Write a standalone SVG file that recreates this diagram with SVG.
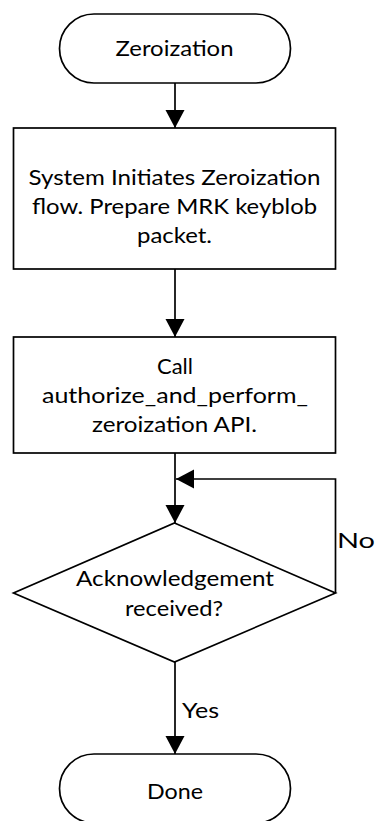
<svg xmlns="http://www.w3.org/2000/svg" width="377" height="821" viewBox="0 0 377 821">
  <style>
    .shape { fill: #ffffff; stroke: #000000; stroke-width: 1.7; }
    .edge { fill: none; stroke: #000000; stroke-width: 1.7; }
    .label { font-family: Lato, "Open Sans", "Liberation Sans", sans-serif; font-size: 21px; fill: #000000; }
    .mid { text-anchor: middle; }
  </style>
  <defs>
    <marker id="arrow" markerUnits="userSpaceOnUse" markerWidth="20" markerHeight="20" refX="18" refY="9.5" orient="auto">
      <path d="M0,0 L18,9.5 L0,19 Z" fill="#000000"/>
    </marker>
  </defs>

  <!-- connectors -->
  <g id="connectors">
    <line class="edge" x1="175" y1="83" x2="175" y2="128" marker-end="url(#arrow)"/>
    <line class="edge" x1="175" y1="269" x2="175" y2="337" marker-end="url(#arrow)"/>
    <line class="edge" x1="175" y1="453" x2="175" y2="523" marker-end="url(#arrow)"/>
    <polyline class="edge" points="335.5,593 335.5,479 176,479" marker-end="url(#arrow)"/>
    <line class="edge" x1="175" y1="662" x2="175" y2="754" marker-end="url(#arrow)"/>
    <text class="label" x="337" y="548" textLength="38" lengthAdjust="spacingAndGlyphs">No</text>
    <text class="label" x="182" y="718" textLength="37" lengthAdjust="spacingAndGlyphs">Yes</text>
  </g>

  <!-- start terminator -->
  <g id="start">
    <rect class="shape" x="59.5" y="14" width="231" height="69" rx="34.5" ry="34.5"/>
    <text class="label mid" x="174.5" y="56" textLength="118" lengthAdjust="spacingAndGlyphs">Zeroization</text>
  </g>

  <!-- prepare keyblob step -->
  <g id="prepare">
    <rect class="shape" x="13.5" y="128" width="322" height="141"/>
    <text class="label mid" x="174.5" y="185" textLength="292" lengthAdjust="spacingAndGlyphs">System Initiates Zeroization</text>
    <text class="label mid" x="174.5" y="214" textLength="285" lengthAdjust="spacingAndGlyphs">flow. Prepare MRK keyblob</text>
    <text class="label mid" x="174.5" y="243" textLength="75" lengthAdjust="spacingAndGlyphs">packet.</text>
  </g>

  <!-- API call step -->
  <g id="call">
    <rect class="shape" x="13.5" y="337" width="322" height="116"/>
    <text class="label mid" x="175" y="374" textLength="36" lengthAdjust="spacingAndGlyphs">Call</text>
    <text class="label mid" x="175" y="403" textLength="266" lengthAdjust="spacingAndGlyphs">authorize_and_perform_</text>
    <text class="label mid" x="174.5" y="432" textLength="165" lengthAdjust="spacingAndGlyphs">zeroization API.</text>
  </g>

  <!-- acknowledgement decision -->
  <g id="decision">
    <polygon class="shape" points="174.5,523 335.5,593 174.5,662 13.5,593"/>
    <text class="label mid" x="175" y="586" textLength="198" lengthAdjust="spacingAndGlyphs">Acknowledgement</text>
    <text class="label mid" x="174" y="616" textLength="98" lengthAdjust="spacingAndGlyphs">received?</text>
  </g>

  <!-- end terminator -->
  <g id="done">
    <rect class="shape" x="59.5" y="754" width="231" height="69" rx="34.5" ry="34.5"/>
    <text class="label mid" x="175" y="799" textLength="56" lengthAdjust="spacingAndGlyphs">Done</text>
  </g>
</svg>
